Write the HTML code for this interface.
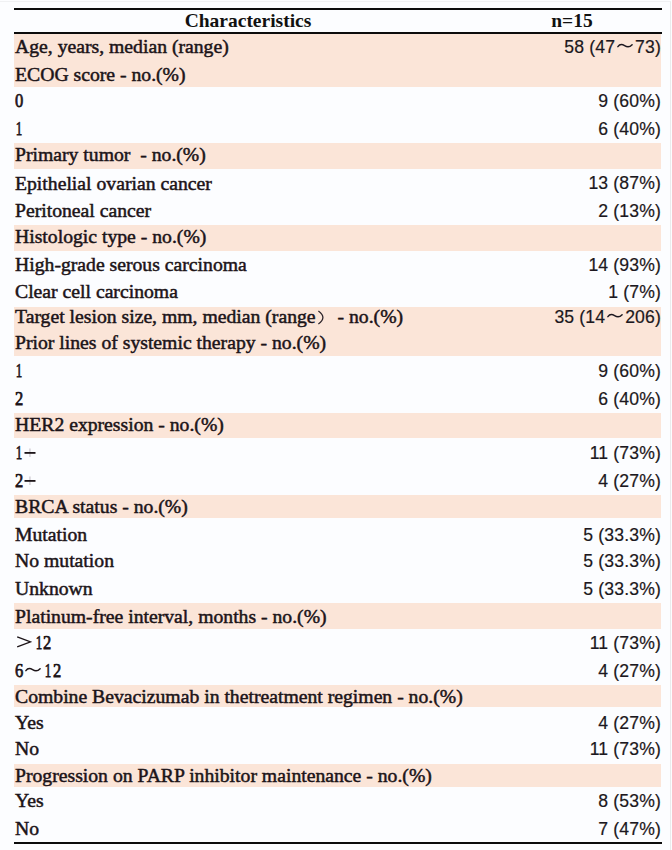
<!DOCTYPE html>
<html><head><meta charset="utf-8"><style>
html,body{margin:0;padding:0;}
body{width:672px;height:850px;position:relative;overflow:hidden;background:#fcfdff;}
.fr{position:absolute;left:-5px;top:1px;width:675px;height:860px;border-top:1px solid #f0f1f3;border-right:1px solid #eaebec;}
.r{position:absolute;left:14px;width:648px;height:2px;background:#0c0c0c;}
.b{position:absolute;left:14px;width:647px;background:#fbe5d8;}
.l{position:absolute;left:15px;white-space:nowrap;font-family:"Liberation Serif",serif;font-size:19.70px;line-height:27px;color:#1c1418;-webkit-text-stroke:0.5px #1c1418;}
.v{position:absolute;right:11px;white-space:nowrap;font-family:"Liberation Sans",sans-serif;font-size:17.60px;line-height:27px;color:#1c1820;letter-spacing:0.15px;-webkit-text-stroke:0.2px #1c1820;}
.h{position:absolute;white-space:nowrap;font-family:"Liberation Serif",serif;font-weight:bold;font-size:19.5px;line-height:27px;color:#111;text-align:center;}
.tl{display:inline-block;vertical-align:0.23em;margin:0 2px 0 2px;}
.l .tl{margin:0 3px 0 2px;}
.pl{display:inline-block;vertical-align:0px;margin:0 0 0 0.5px;}
.d{display:inline-block;transform:scaleX(0.84);transform-origin:0 0;margin-right:-1.6px;-webkit-text-stroke:0.75px #1c1418;}
.d1{transform:scaleX(0.66) translateX(1px);}
.gt{display:inline-block;vertical-align:1.5px;margin:0 2.5px 0 1px;}
.fp{display:inline-block;vertical-align:-1.5px;margin:0 6.5px 0 1.5px;}
</style></head><body>

<div class="b" style="top:34px;height:53px"></div>
<div class="b" style="top:143px;height:26px"></div>
<div class="b" style="top:225px;height:26px"></div>
<div class="b" style="top:307px;height:49px"></div>
<div class="b" style="top:413px;height:25px"></div>
<div class="b" style="top:495px;height:23px"></div>
<div class="b" style="top:603px;height:26px"></div>
<div class="b" style="top:685px;height:22px"></div>
<div class="b" style="top:764px;height:23px"></div>
<div class="fr"></div>
<div class="r" style="top:8px"></div>
<div class="r" style="top:32px"></div>
<div class="r" style="top:842px"></div>
<div class="h" style="left:14px;width:468px;top:7.35px">Characteristics</div>
<div class="h" style="left:482px;width:180px;top:7.35px">n=15</div>
<div class="l" style="top:33.25px">Age, years, median (range)</div>
<div class="v" style="top:33.80px">58 (47<svg class="tl" width="16" height="7" viewBox="0 0 16 7"><path d="M0.9,4.7 C2.6,2.2 4.6,1.8 7.6,3.7 S12.6,5.5 15.1,2.7" fill="none" stroke="currentColor" stroke-width="1.45" stroke-linecap="round"/></svg>73)</div>
<div class="l" style="top:61.45px">ECOG score - no.(%)</div>
<div class="l" style="top:87.35px"><span class="d">0</span></div>
<div class="v" style="top:87.90px">9 (60%)</div>
<div class="l" style="top:115.05px"><span class="d d1">1</span></div>
<div class="v" style="top:115.60px">6 (40%)</div>
<div class="l" style="top:141.45px">Primary tumor &nbsp;- no.(%)</div>
<div class="l" style="top:169.65px">Epithelial ovarian cancer</div>
<div class="v" style="top:170.20px">13 (87%)</div>
<div class="l" style="top:197.45px">Peritoneal cancer</div>
<div class="v" style="top:198.00px">2 (13%)</div>
<div class="l" style="top:223.35px">Histologic type - no.(%)</div>
<div class="l" style="top:251.05px">High-grade serous carcinoma</div>
<div class="v" style="top:251.60px">14 (93%)</div>
<div class="l" style="top:278.35px">Clear cell carcinoma</div>
<div class="v" style="top:278.90px">1 (7%)</div>
<div class="l" style="top:303.35px">Target lesion size, mm, median (range<svg class="fp" width="9" height="15" viewBox="0 0 9 15"><path d="M1.4,1 Q10.4,7.5 1.4,14" fill="none" stroke="#2a2228" stroke-width="1.3"/></svg> - no.(%)</div>
<div class="v" style="top:303.90px">35 (14<svg class="tl" width="16" height="7" viewBox="0 0 16 7"><path d="M0.9,4.7 C2.6,2.2 4.6,1.8 7.6,3.7 S12.6,5.5 15.1,2.7" fill="none" stroke="currentColor" stroke-width="1.45" stroke-linecap="round"/></svg>206)</div>
<div class="l" style="top:329.25px">Prior lines of systemic therapy - no.(%)</div>
<div class="l" style="top:357.45px"><span class="d d1">1</span></div>
<div class="v" style="top:358.00px">9 (60%)</div>
<div class="l" style="top:385.25px"><span class="d">2</span></div>
<div class="v" style="top:385.80px">6 (40%)</div>
<div class="l" style="top:411.05px">HER2 expression - no.(%)</div>
<div class="l" style="top:439.35px"><span class="d d1">1</span><svg class="pl" width="12" height="12" viewBox="0 0 12 12"><rect x="5.4" y="1.5" width="1.1" height="8.5" fill="#c4c0c8"/><rect x="0.5" y="5" width="11" height="1.8" fill="currentColor"/></svg></div>
<div class="v" style="top:439.90px">11 (73%)</div>
<div class="l" style="top:467.05px"><span class="d">2</span><svg class="pl" width="12" height="12" viewBox="0 0 12 12"><rect x="5.4" y="1.5" width="1.1" height="8.5" fill="#c4c0c8"/><rect x="0.5" y="5" width="11" height="1.8" fill="currentColor"/></svg></div>
<div class="v" style="top:467.60px">4 (27%)</div>
<div class="l" style="top:493.35px">BRCA status - no.(%)</div>
<div class="l" style="top:521.25px">Mutation</div>
<div class="v" style="top:521.80px">5 (33.3%)</div>
<div class="l" style="top:547.05px">No mutation</div>
<div class="v" style="top:547.60px">5 (33.3%)</div>
<div class="l" style="top:575.35px">Unknown</div>
<div class="v" style="top:575.90px">5 (33.3%)</div>
<div class="l" style="top:602.85px">Platinum-free interval, months - no.(%)</div>
<div class="l" style="top:629.35px"><svg class="gt" width="16" height="12" viewBox="0 0 16 12"><path d="M1.2,0.9 L14.6,5.9 L1.2,10.9" fill="none" stroke="currentColor" stroke-width="1.35" stroke-linejoin="miter"/></svg><span class="d d1">1</span><span class="d">2</span></div>
<div class="v" style="top:629.90px">11 (73%)</div>
<div class="l" style="top:657.15px"><span class="d">6</span><svg class="tl" width="16" height="7" viewBox="0 0 16 7"><path d="M0.9,4.7 C2.6,2.2 4.6,1.8 7.6,3.7 S12.6,5.5 15.1,2.7" fill="none" stroke="currentColor" stroke-width="1.45" stroke-linecap="round"/></svg><span class="d d1">1</span><span class="d">2</span></div>
<div class="v" style="top:657.70px">4 (27%)</div>
<div class="l" style="top:683.25px">Combine Bevacizumab in thetreatment regimen - no.(%)</div>
<div class="l" style="top:709.05px">Yes</div>
<div class="v" style="top:709.60px">4 (27%)</div>
<div class="l" style="top:734.95px">No</div>
<div class="v" style="top:735.50px">11 (73%)</div>
<div class="l" style="top:761.85px">Progression on PARP inhibitor maintenance - no.(%)</div>
<div class="l" style="top:787.25px">Yes</div>
<div class="v" style="top:787.80px">8 (53%)</div>
<div class="l" style="top:814.95px">No</div>
<div class="v" style="top:815.50px">7 (47%)</div>
</body></html>
